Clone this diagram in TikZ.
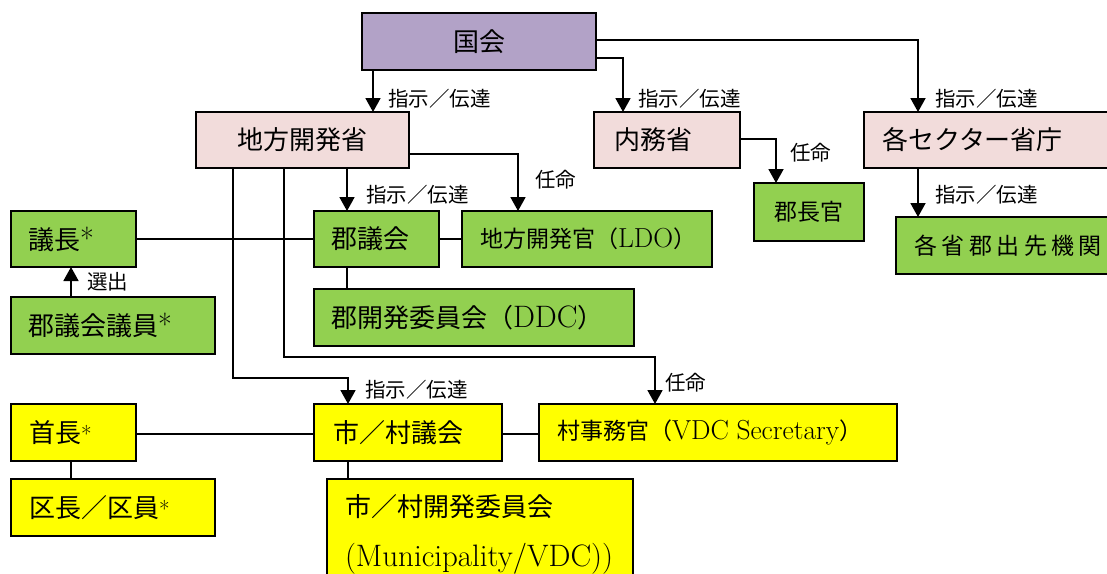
\documentclass[tikz,border=0pt]{standalone}
\usepackage{fontspec}
\newfontfamily\cjk{Noto Sans CJK JP}
\usetikzlibrary{arrows.meta}
\definecolor{cpurple}{HTML}{B2A2C7}
\definecolor{cpink}{HTML}{F2DCDB}
\definecolor{cgreen}{HTML}{92D050}
\definecolor{cyellow}{HTML}{FFFF00}
\newcommand\myBig{\fontsize{26}{30}\selectfont}
\newcommand\myMid{\fontsize{23}{27}\selectfont}
\newcommand\mySmall{\fontsize{20.5}{24}\selectfont}
\newcommand\latM[1]{{\rmfamily\fontsize{27.5}{30}\selectfont #1}}
\newcommand\latB[1]{{\rmfamily\fontsize{31}{34}\selectfont #1}}
\newcommand\astB{{\rmfamily\fontsize{30}{30}\selectfont *}}
\newcommand\astS{{\rmfamily\fontsize{23}{23}\selectfont *}}
\begin{document}
\begin{tikzpicture}[x=1pt,y=-1pt,
  box/.style={draw=black, line width=2pt, inner xsep=18pt, inner ysep=0pt,
    anchor=north west, align=left, outer sep=0pt, font=\myBig\cjk},
  boxc/.style={box, align=center},
  lbl/.style={anchor=west, inner sep=0pt, font=\mySmall\cjk},
  conn/.style={line width=1.8pt},
  arr/.style={conn, -{Triangle[width=15pt,length=14pt]}}]
\clip (0,0) rectangle (1107,573);
\fill[white] (0,0) rectangle (1107,573);

% boxes
\node[boxc, fill=cpurple, text width=198pt, minimum height=57pt] (kokkai) at (362,13) {国会};
\node[boxc, fill=cpink, text width=177pt, minimum height=56pt] (chiho) at (196,112) {地方開発省};
\node[box, fill=cpink, inner xsep=20pt, text width=106pt, minimum height=56pt] (naimu) at (594,112) {内務省};
\node[box, fill=cpink, text width=224pt, minimum height=56pt] (sector) at (864,112) {各セクター省庁};
\node[boxc, fill=cgreen, inner xsep=8pt, text width=94pt, minimum height=58pt, font=\myMid\cjk] (gunchokan) at (754,183) {郡長官};
\node[box, fill=cgreen, text width=184pt, minimum height=57pt, font=\myMid\cjk] (shutsusaki) at (896,217)
  {各\kern4.5pt 省\kern4.5pt 郡\kern4.5pt 出\kern4.5pt 先\kern4.5pt 機\kern4.5pt 関};
\node[box, fill=cgreen, inner xsep=17pt, text width=91pt, minimum height=56pt] (gicho) at (11,211) {議長\astB};
\node[box, fill=cgreen, inner xsep=17pt, text width=170pt, minimum height=57pt] (giin) at (11,297) {郡議会議員\astB};
\node[box, fill=cgreen, inner xsep=17pt, text width=91pt, minimum height=56pt] (gungikai) at (314,211) {郡議会};
\node[box, fill=cgreen, text width=214pt, minimum height=56pt, font=\myMid\cjk] (ldo) at (462,211)
  {地方開発官（\latM{LDO}）};
\node[box, fill=cgreen, inner xsep=17pt, text width=286pt, minimum height=57pt] (ddc) at (314,289)
  {郡開発委員会（\latB{DDC}）};
\node[box, fill=cyellow, text width=89pt, minimum height=57pt] (shucho) at (11,404) {首長\astS};
\node[box, fill=cyellow, text width=168pt, minimum height=57pt] (kucho) at (11,479) {区長／区員\astS};
\node[box, fill=cyellow, inner xsep=19pt, text width=150pt, minimum height=57pt] (shigikai) at (314,404) {市／村議会};
\node[box, fill=cyellow, text width=322pt, minimum height=57pt, font=\myMid\cjk] (jimukan) at (539,404)
  {村事務官（\latM{VDC Secretary}）};
\node[box, fill=cyellow, text width=270pt, minimum height=110pt, font=\fontsize{26}{50}\selectfont\cjk] (shikai) at (327,479)
  {市／村開発委員会\\\latB{(Municipality/VDC))}};

% helper coordinates
\coordinate (v71) at (71,0);
\coordinate (v233) at (233,0);
\coordinate (v284) at (284,0);
\coordinate (v347) at (347,0);
\coordinate (v348) at (348,0);
\coordinate (v373) at (373,0);
\coordinate (v518) at (518,0);
\coordinate (v623) at (623,0);
\coordinate (v655) at (655,0);
\coordinate (v776) at (776,0);
\coordinate (v918) at (918,0);
\coordinate (h40) at (0,40);
\coordinate (h58) at (0,58);
\coordinate (h139) at (0,139);
\coordinate (h154) at (0,154);
\coordinate (h357) at (0,357);
\coordinate (h378) at (0,378);
\coordinate (h434) at (0,434);

% connectors
\draw[arr] (kokkai.south -| v373) -- (chiho.north -| v373);
\draw[arr] (kokkai.east |- h58) -| (naimu.north -| v623);
\draw[arr] (kokkai.east |- h40) -| (sector.north -| v918);
\draw[arr] (naimu.east |- h139) -| (gunchokan.north -| v776);
\draw[arr] (sector.south -| v918) -- (shutsusaki.north -| v918);
\draw[arr] (chiho.south -| v347) -- (gungikai.north -| v347);
\draw[arr] (chiho.east |- h154) -| (ldo.north -| v518);
\draw[arr] (chiho.south -| v284) -- (v284 |- h357) -| (jimukan.north -| v655);
\draw[arr] (chiho.south -| v233) -- (v233 |- h378) -| (shigikai.north -| v348);
\draw[conn] (gicho.east) -- (gungikai.west);
\draw[conn] (gungikai.east) -- (ldo.west);
\draw[conn] (gungikai.south -| v347) -- (ddc.north -| v347);
\draw[arr] (giin.north -| v71) -- (gicho.south -| v71);
\draw[conn] (shucho.east |- h434) -- (shigikai.west |- h434);
\draw[conn] (shigikai.east |- h434) -- (jimukan.west |- h434);
\draw[conn] (shucho.south -| v71) -- (kucho.north -| v71);
\draw[conn] (shigikai.south -| v348) -- (shikai.north -| v348);

% labels
\node[lbl] (l1) at (388,99) {指示／伝達};
\node[lbl] (l2) at (638,99) {指示／伝達};
\node[lbl] (l3) at (935,99) {指示／伝達};
\node[lbl] (l4) at (790,153) {任命};
\node[lbl] (l5) at (366,195) {指示／伝達};
\node[lbl] (l6) at (535,180) {任命};
\node[lbl] (l7) at (935,195) {指示／伝達};
\node[lbl] (l8) at (87,282) {選出};
\node[lbl] (l9) at (365,390) {指示／伝達};
\node[lbl] (l10) at (665,383) {任命};
\end{tikzpicture}
\end{document}
